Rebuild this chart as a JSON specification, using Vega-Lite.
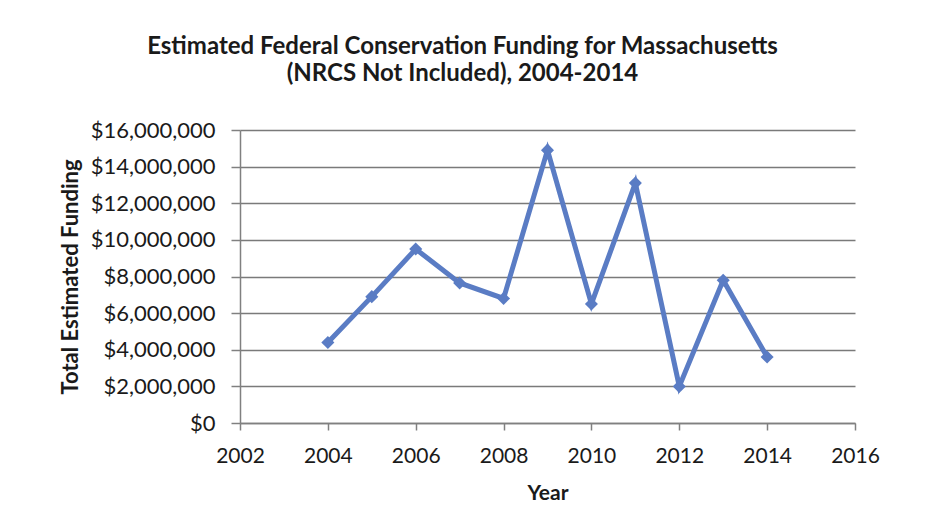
{
  "$schema": "https://vega.github.io/schema/vega-lite/v6.json",
  "autosize": "none",
  "width": 615,
  "height": 293,
  "padding": {"left": 240, "top": 130, "right": 71, "bottom": 95},
  "background": "white",
  "title": {
    "text": ["Estimated Federal Conservation Funding for Massachusetts", "(NRCS Not Included), 2004-2014"],
    "font": "Lato",
    "fontSize": 24,
    "fontWeight": "bold",
    "color": "#1a1a1a",
    "anchor": "middle",
    "dx": -85,
    "offset": 33,
    "lineHeight": 27
  },
  "data": {
    "values": [
      {"year": 2004, "funding": 4400000},
      {"year": 2005, "funding": 6900000},
      {"year": 2006, "funding": 9500000},
      {"year": 2007, "funding": 7650000},
      {"year": 2008, "funding": 6800000},
      {"year": 2009, "funding": 14900000},
      {"year": 2010, "funding": 6500000},
      {"year": 2011, "funding": 13100000},
      {"year": 2012, "funding": 2000000},
      {"year": 2013, "funding": 7800000},
      {"year": 2014, "funding": 3600000}
    ]
  },
  "mark": {
    "type": "line",
    "color": "#5a7cc4",
    "strokeWidth": 5,
    "point": {"shape": "diamond", "size": 170, "filled": true, "color": "#5a7cc4", "opacity": 1}
  },
  "encoding": {
    "x": {
      "field": "year",
      "type": "quantitative",
      "scale": {"domain": [2002, 2016], "nice": false, "zero": false},
      "axis": {
        "values": [2002, 2004, 2006, 2008, 2010, 2012, 2014, 2016],
        "format": "d",
        "title": "Year",
        "grid": false,
        "labelFlush": false,
        "domainColor": "#808080",
        "domainWidth": 1.5,
        "tickColor": "#808080",
        "tickSize": 7,
        "tickWidth": 1.5,
        "labelFont": "Lato",
        "labelFontSize": 21,
        "labelColor": "#1a1a1a",
        "labelPadding": 15,
        "titleFont": "Lato",
        "titleFontSize": 21,
        "titleFontWeight": "bold",
        "titleColor": "#1a1a1a",
        "titlePadding": 16
      }
    },
    "y": {
      "field": "funding",
      "type": "quantitative",
      "scale": {"domain": [0, 16000000], "nice": false},
      "axis": {
        "values": [0, 2000000, 4000000, 6000000, 8000000, 10000000, 12000000, 14000000, 16000000],
        "format": "$,.0f",
        "title": "Total Estimated Funding",
        "grid": true,
        "gridColor": "#7a7a7a",
        "gridWidth": 1.5,
        "gridOpacity": 1,
        "domainColor": "#808080",
        "domainWidth": 1.5,
        "tickColor": "#808080",
        "tickSize": 9,
        "tickWidth": 1.5,
        "labelFont": "Lato",
        "labelFontSize": 22,
        "labelColor": "#1a1a1a",
        "labelPadding": 16,
        "titleFont": "Lato",
        "titleFontSize": 22,
        "titleFontWeight": "bold",
        "titleColor": "#1a1a1a",
        "titlePadding": 8
      }
    }
  },
  "config": {"view": {"stroke": null}}
}
